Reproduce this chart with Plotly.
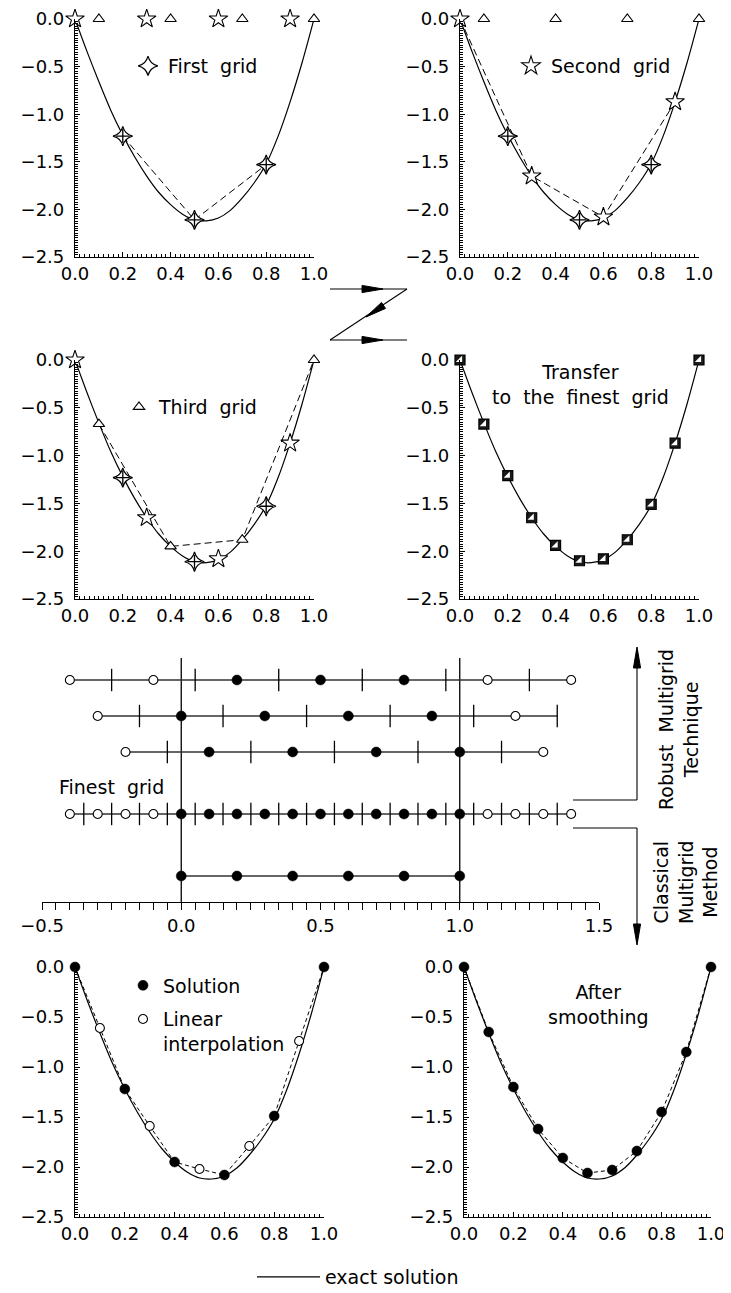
import math
import plotly.graph_objects as go

# the page body adds an 8 px margin, so the figure fills the rest of the 731x1293 window
OFF = 8
W, H = 731 - OFF, 1293 - OFF

# ---------------- data ----------------
exact_x = [0.0, 0.05, 0.1, 0.15, 0.2, 0.25, 0.3, 0.35, 0.4, 0.45, 0.5,
           0.55, 0.6, 0.65, 0.7, 0.75, 0.8, 0.85, 0.9, 0.95, 1.0]
exact_y = [0.0, -0.34, -0.66, -0.96, -1.22, -1.45, -1.65, -1.82, -1.95, -2.05, -2.11,
           -2.12, -2.09, -2.01, -1.88, -1.72, -1.52, -1.23, -0.87, -0.46, 0.0]

grid1_x = [0.2, 0.5, 0.8]
grid1_y = [-1.23, -2.11, -1.53]
grid2_x = [0.0, 0.3, 0.6, 0.9]
grid2_y = [0.0, -1.65, -2.08, -0.87]
grid3_x = [0.1, 0.4, 0.7, 1.0]
grid3_y = [-0.67, -1.95, -1.88, 0.0]

finest_x = [0.0, 0.1, 0.2, 0.3, 0.4, 0.5, 0.6, 0.7, 0.8, 0.9, 1.0]
transfer_y = [0.0, -0.67, -1.21, -1.65, -1.94, -2.10, -2.08, -1.88, -1.51, -0.87, 0.0]

solution_x = [0.0, 0.2, 0.4, 0.6, 0.8, 1.0]
solution_y = [0.0, -1.22, -1.95, -2.08, -1.49, 0.0]
interp_x = [0.1, 0.3, 0.5, 0.7, 0.9]
interp_y = [-0.61, -1.59, -2.02, -1.79, -0.74]

smooth_y = [0.0, -0.65, -1.20, -1.62, -1.91, -2.06, -2.03, -1.84, -1.45, -0.85, 0.0]

# grids of the middle scheme: (filled nodes, ghost nodes, cell faces)
row1_filled = [0.2, 0.5, 0.8]
row1_open = [-0.4, -0.1, 1.1, 1.4]
row1_mid = [-0.25, 0.05, 0.35, 0.65, 0.95, 1.25]
row2_filled = [0.0, 0.3, 0.6, 0.9]
row2_open = [-0.3, 1.2]
row2_mid = [-0.15, 0.15, 0.45, 0.75, 1.05, 1.35]
row3_filled = [0.1, 0.4, 0.7, 1.0]
row3_open = [-0.2, 1.3]
row3_mid = [-0.05, 0.25, 0.55, 0.85, 1.15]
row4_filled = [0.0, 0.1, 0.2, 0.3, 0.4, 0.5, 0.6, 0.7, 0.8, 0.9, 1.0]
row4_open = [-0.4, -0.3, -0.2, -0.1, 1.1, 1.2, 1.3, 1.4]
row4_mid = [-0.35, -0.25, -0.15, -0.05, 0.05, 0.15, 0.25, 0.35, 0.45, 0.55,
            0.65, 0.75, 0.85, 0.95, 1.05, 1.15, 1.25, 1.35]
row5_filled = [0.0, 0.2, 0.4, 0.6, 0.8, 1.0]
row5_open = []
row5_mid = []

domain_edges = [0.0, 1.0]

# ---------------- styling / layout helpers ----------------
FONT = "DejaVu Sans"
TICKFONT = dict(family=FONT, size=18, color="black")
TXT = dict(family=FONT, size=19, color="black")
BLACK = "black"

# vertical positions of the rows in the middle scheme (px above axis line)
row_levels = [222, 186, 150, 88, 26]
mid_top = 244


def fx(x):
    """window pixel x -> paper fraction"""
    return (x - OFF) / W


def fy(y):
    """window pixel y -> paper fraction"""
    return 1 - (y - OFF) / H


def ids(k):
    return ("x" if k == 1 else f"x{k}"), ("y" if k == 1 else f"y{k}")


fig = go.Figure()


def sc(k, **kw):
    xa, ya = ids(k)
    kw.setdefault("showlegend", False)
    kw.setdefault("hoverinfo", "skip")
    kw.setdefault("cliponaxis", False)
    fig.add_trace(go.Scatter(xaxis=xa, yaxis=ya, **kw))


def exact(k, show=False):
    sc(k, x=exact_x, y=exact_y, mode="lines", name="exact solution",
       line=dict(color=BLACK, width=1.2, shape="spline", smoothing=0.8),
       showlegend=show, legend="legend")


def dashed(k, x, y, dash="7px,4px"):
    sc(k, x=x, y=y, mode="lines", line=dict(color=BLACK, width=1, dash=dash))


def star4(k, x, y, legend=None, name=None):
    sc(k, x=x, y=y, mode="markers", name=name, showlegend=legend is not None,
       legend=legend or "legend",
       marker=dict(symbol="star-diamond", size=14, color="white",
                   line=dict(color=BLACK, width=1.2)))
    sc(k, x=x, y=y, mode="markers",
       marker=dict(symbol="cross-thin-open", size=10, color=BLACK,
                   line=dict(color=BLACK, width=1.3)))


def star5(k, x, y, legend=None, name=None):
    sc(k, x=x, y=y, mode="markers", name=name, showlegend=legend is not None,
       legend=legend or "legend",
       marker=dict(symbol="star", size=14, color="white", line=dict(color=BLACK, width=1.1)))


def tri(k, x, y, legend=None, name=None):
    sc(k, x=x, y=y, mode="markers", name=name, showlegend=legend is not None,
       legend=legend or "legend",
       marker=dict(symbol="triangle-up", size=10, color="white",
                   line=dict(color=BLACK, width=1.1)))


def zeros(x):
    return [0.0 for _ in x]


# ---- panel 1: first grid ----
exact(1, show=True)
dashed(1, grid1_x, grid1_y)
star5(1, grid2_x, zeros(grid2_x))
tri(1, grid3_x, zeros(grid3_x))
star4(1, grid1_x, grid1_y, legend="legend2", name="First\u00a0 grid")

# ---- panel 2: second grid ----
exact(2)
dashed(2, grid2_x, grid2_y)
star4(2, grid1_x, grid1_y)
star5(2, grid2_x, grid2_y, legend="legend3", name="Second\u00a0 grid")
tri(2, grid3_x, zeros(grid3_x))

# ---- panel 3: third grid ----
exact(3)
dashed(3, grid3_x, grid3_y)
star4(3, grid1_x, grid1_y)
star5(3, grid2_x, grid2_y)
tri(3, grid3_x, grid3_y, legend="legend4", name="Third\u00a0 grid")

# ---- panel 4: transfer to finest grid ----
exact(4)
sc(4, x=finest_x, y=transfer_y, mode="markers",
   marker=dict(symbol="square", size=10, color="#1a1a1a", line=dict(color=BLACK, width=1.2)))
sc(4, x=finest_x, y=transfer_y, mode="markers",
   marker=dict(symbol="triangle-se", size=7, color="white", line=dict(color="white", width=0)))

# ---- middle scheme ----
rows = [(row1_filled, row1_open, row1_mid), (row2_filled, row2_open, row2_mid),
        (row3_filled, row3_open, row3_mid), (row4_filled, row4_open, row4_mid),
        (row5_filled, row5_open, row5_mid)]
for e in domain_edges:
    sc(5, x=[e, e], y=[0, mid_top], mode="lines", line=dict(color=BLACK, width=1.3))
for (filled, opn, mid), lev in zip(rows, row_levels):
    allx = filled + opn + mid
    sc(5, x=[min(allx), max(allx)], y=[lev, lev], mode="lines",
       line=dict(color="#333", width=1.4))
    if mid:
        sc(5, x=mid, y=[lev] * len(mid), mode="markers",
           marker=dict(symbol="line-ns-open", size=16, color=BLACK,
                       line=dict(color=BLACK, width=1.3)))
    if opn:
        sc(5, x=opn, y=[lev] * len(opn), mode="markers",
           marker=dict(symbol="circle", size=9, color="white", line=dict(color=BLACK, width=1.1)))
    sc(5, x=filled, y=[lev] * len(filled), mode="markers",
       marker=dict(symbol="circle", size=10, color=BLACK, line=dict(color=BLACK, width=0.5)))

# ---- panel 5: solution + linear interpolation ----
exact(6)
merged = sorted(zip(solution_x + interp_x, solution_y + interp_y))
dashed(6, [m[0] for m in merged], [m[1] for m in merged], dash="4px,3px")
sc(6, x=solution_x, y=solution_y, mode="markers", name="Solution", showlegend=True,
   legend="legend5", legendgroup="sol",
   marker=dict(symbol="circle", size=10, color=BLACK, line=dict(color=BLACK, width=0.5)))
sc(6, x=interp_x, y=interp_y, mode="markers", name="Linear<br>interpolation", showlegend=True,
   legend="legend5", legendgroup="int",
   marker=dict(symbol="circle", size=9, color="white", line=dict(color=BLACK, width=1.1)))

# ---- panel 6: after smoothing ----
exact(7)
dashed(7, finest_x, smooth_y, dash="4px,3px")
sc(7, x=finest_x, y=smooth_y, mode="markers",
   marker=dict(symbol="circle", size=10, color=BLACK, line=dict(color=BLACK, width=0.5)))

# ---------------- axes ----------------
panels = {
    1: (75, 314, 19, 257),
    2: (460, 699, 19, 257),
    3: (75, 314, 360, 599),
    4: (460, 699, 360, 599),
    6: (75, 324, 967, 1217),
    7: (464, 711, 967, 1217),
}
layout_axes = {}
for k, (x0, x1, y0, y1) in panels.items():
    xa, ya = ids(k)
    xname = "xaxis" if k == 1 else f"xaxis{k}"
    yname = "yaxis" if k == 1 else f"yaxis{k}"
    layout_axes[xname] = dict(
        domain=[fx(x0), fx(x1)], range=[0, 1], anchor=ya, tick0=0, dtick=0.2,
        tickformat=".1f", showline=True, linecolor=BLACK, linewidth=1.2,
        ticks="inside", ticklen=5, tickwidth=1, tickcolor=BLACK,
        minor=dict(ticks="inside", dtick=0.02, ticklen=3, tickwidth=1, tickcolor=BLACK),
        showgrid=False, zeroline=False, tickfont=TICKFONT, automargin=False,
        ticklabeloverflow="allow", fixedrange=True)
    layout_axes[yname] = dict(
        domain=[fy(y1), fy(y0)], range=[-2.5, 0], anchor=xa, tick0=0, dtick=0.5,
        tickformat=".1f", showline=True, linecolor=BLACK, linewidth=1.2,
        ticks="inside", ticklen=5, tickwidth=1, tickcolor=BLACK,
        minor=dict(ticks="inside", dtick=0.025, ticklen=3, tickwidth=1, tickcolor=BLACK),
        showgrid=False, zeroline=False, tickfont=TICKFONT, ticklabelstandoff=6,
        automargin=False, ticklabeloverflow="allow", fixedrange=True)

layout_axes["xaxis5"] = dict(
    domain=[fx(42), fx(599)], range=[-0.5, 1.5], anchor="y5", tick0=0, dtick=0.5,
    tickformat=".1f", showline=True, linecolor=BLACK, linewidth=1.2,
    ticks="outside", ticklen=7, tickwidth=1, tickcolor=BLACK,
    minor=dict(ticks="outside", dtick=0.05, ticklen=7, tickwidth=1, tickcolor=BLACK),
    showgrid=False, zeroline=False, tickfont=TICKFONT, automargin=False,
    ticklabeloverflow="allow", fixedrange=True)
layout_axes["yaxis5"] = dict(domain=[fy(902), fy(658)], range=[0, mid_top], anchor="x5",
                             visible=False, automargin=False, fixedrange=True)

# ---------------- decorations ----------------
shapes = []


def seg(x0, y0, x1, y1, width=1.1):
    shapes.append(dict(type="line", xref="paper", yref="paper", x0=fx(x0), y0=fy(y0),
                       x1=fx(x1), y1=fy(y1), line=dict(color=BLACK, width=width)))


def head(tx, ty, dx, dy, L=21, w=3.6):
    n = math.hypot(dx, dy)
    ux, uy = dx / n, dy / n
    bx, by = tx - L * ux, ty - L * uy
    nx, ny = -uy, ux
    pts = [(tx, ty), (bx + w * nx, by + w * ny), (bx - w * nx, by - w * ny)]
    path = "M " + " L ".join(f"{fx(a):.5f},{fy(b):.5f}" for a, b in pts) + " Z"
    shapes.append(dict(type="path", xref="paper", yref="paper", path=path,
                       fillcolor=BLACK, line=dict(color=BLACK, width=1)))


# Z-shaped transfer arrow between the grids
seg(330, 289, 407, 289)
head(383, 289, 1, 0)
seg(407, 289, 330, 340)
head(366, 317, -77, 51)
seg(330, 340, 407, 340)
head(383, 340, 1, 0)

# robust / classical brackets
seg(573, 800, 637, 800)
seg(637, 800, 637, 650)
head(637, 647, 0, -1)
seg(573, 828, 637, 828)
seg(637, 828, 637, 942)
head(637, 945, 0, 1)

annotations = [
    dict(text="Transfer<br>to\u00a0 the\u00a0 finest\u00a0 grid", x=fx(580), y=fy(384),
         xanchor="center", yanchor="middle", showarrow=False, font=TXT, align="center"),
    dict(text="After<br>smoothing", x=fx(598), y=fy(1004), xanchor="center",
         yanchor="middle", showarrow=False, font=TXT, align="center"),
    dict(text="Finest\u00a0 grid", x=fx(57), y=fy(787), xanchor="left", yanchor="middle",
         showarrow=False, font=TXT),
    dict(text="Robust\u00a0 Multigrid<br>Technique", x=fx(678), y=fy(730), xanchor="center",
         yanchor="middle", showarrow=False, font=TXT, textangle=-90, align="center"),
    dict(text="Classical<br>Multigrid<br>Method", x=fx(685), y=fy(882), xanchor="center",
         yanchor="middle", showarrow=False, font=TXT, textangle=-90, align="center"),
]

for a in annotations:
    a.update(xref="paper", yref="paper")

LEG = dict(bgcolor="rgba(0,0,0,0)", font=TXT, xanchor="left", yanchor="middle",
           itemclick=False, itemdoubleclick=False)

fig.update_layout(
    width=W, height=H, margin=dict(l=0, r=0, t=0, b=0, autoexpand=False),
    paper_bgcolor="white", plot_bgcolor="white", showlegend=True,
    shapes=shapes, annotations=annotations,
    legend=dict(LEG, x=fx(252), y=fy(1277), orientation="h", itemwidth=63),
    legend2=dict(LEG, x=fx(128), y=fy(66)),
    legend3=dict(LEG, x=fx(511), y=fy(66)),
    legend4=dict(LEG, x=fx(119), y=fy(407)),
    legend5=dict(LEG, x=fx(123), y=fy(1015), valign="top", tracegroupgap=6),
    **layout_axes,
)

fig.write_html("out.html")
